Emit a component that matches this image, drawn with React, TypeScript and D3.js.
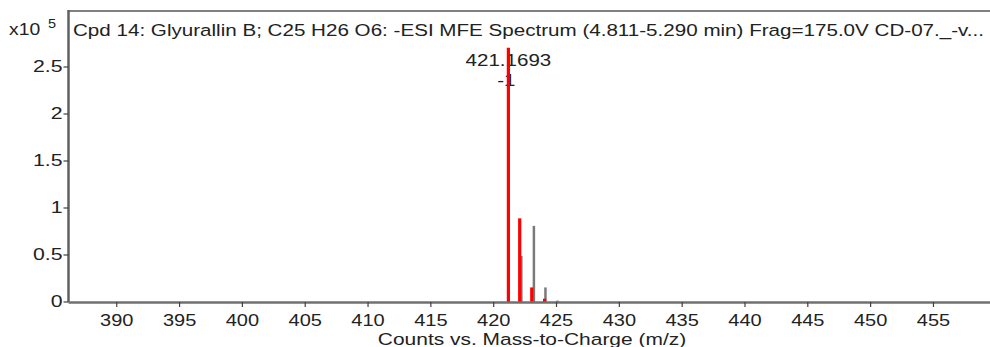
import React from "react";
import * as d3 from "d3";

// Observed isotope peaks (red): m/z and counts in units of 1e5
const observedMz = [421.1693, 422.07, 423.03, 424.05];
const observedCounts = [2.705, 0.89, 0.155, 0.035];

// Predicted isotope pattern (gray)
const predictedMz = [422.2, 423.2, 424.12, 425.08];
const predictedCounts = [0.49, 0.81, 0.155, 0.015];

const xTicks = [390, 395, 400, 405, 410, 415, 420, 425, 430, 435, 440, 445, 450, 455];
const yTicks = [0, 0.5, 1, 1.5, 2, 2.5];
const yTickLabels = ["0", "0.5", "1", "1.5", "2", "2.5"];

const title =
  "Cpd 14: Glyurallin B; C25 H26 O6: -ESI MFE Spectrum (4.811-5.290 min) Frag=175.0V CD-07._-v...";
const peakLabel = "421.1693";
const peakCharge = "-1";
const xTitle = "Counts vs. Mass-to-Charge (m/z)";

const W = 990;
const H = 347;
const left = 68.5;
const right = 990;
const top = 11;
const bottom = 302;

const FONT = "'Liberation Sans', Arial, sans-serif";
const TEXT = "#222";

// Text with the wide, horizontally stretched look of the instrument export
function Label({
  x,
  y,
  size = 17,
  stretch = 1.21,
  anchor = "start",
  dy,
  children,
}: {
  x: number;
  y: number;
  size?: number;
  stretch?: number;
  anchor?: "start" | "middle" | "end";
  dy?: string;
  children: React.ReactNode;
}) {
  return (
    <text
      transform={`translate(${x},${y}) scale(${stretch},1)`}
      textAnchor={anchor}
      dy={dy}
      fontSize={size}
      fill={TEXT}
    >
      {children}
    </text>
  );
}

export default function App() {
  const x = d3.scaleLinear().domain([386.16, 459.5]).range([left, right]);
  const y = d3.scaleLinear().domain([0, 2.5]).range([bottom, 67]);

  return (
    <svg
      width={W}
      height={H}
      style={{ position: "absolute", left: 0, top: 0, background: "#fff", overflow: "hidden" }}
      fontFamily={FONT}
    >
      {/* frame */}
      <line x1={left} x2={right} y1={top} y2={top} stroke="#808080" strokeWidth={2} />
      <line x1={left} x2={left} y1={top - 1} y2={bottom} stroke="#606060" strokeWidth={2.5} />

      {/* title */}
      <Label x={73} y={36} stretch={1.213}>
        {title}
      </Label>

      {/* y axis multiplier */}
      <Label x={9} y={35} size={16}>
        x10
      </Label>
      <Label x={48} y={28} size={12}>
        5
      </Label>

      {yTicks.map((t, i) => (
        <g key={t}>
          <line x1={left - 5} x2={left} y1={y(t)} y2={y(t)} stroke="#404040" strokeWidth={1.2} />
          <Label x={left - 6} y={y(t) - 1.5} dy="0.36em" anchor="end" stretch={1.25}>
            {yTickLabels[i]}
          </Label>
        </g>
      ))}

      {/* predicted pattern */}
      {predictedMz.map((m, i) => (
        <line
          key={"p" + m}
          x1={x(m)}
          x2={x(m)}
          y1={bottom}
          y2={y(predictedCounts[i])}
          stroke="#7a7a7a"
          strokeWidth={2.5}
        />
      ))}

      {/* peak annotation */}
      <Label x={x(observedMz[0])} y={66} anchor="middle">
        {peakLabel}
      </Label>
      <Label x={x(observedMz[0]) - 2} y={86} anchor="middle">
        {peakCharge}
      </Label>

      {/* observed peaks */}
      {observedMz.map((m, i) => (
        <line
          key={"o" + m}
          x1={x(m)}
          x2={x(m)}
          y1={bottom}
          y2={y(observedCounts[i])}
          stroke="#ff0000"
          strokeWidth={3.2}
        />
      ))}

      {/* x axis */}
      <line x1={left} x2={right} y1={bottom + 0.5} y2={bottom + 0.5} stroke="#707070" strokeWidth={2.5} />
      {xTicks.map((t) => (
        <g key={t}>
          <line x1={x(t)} x2={x(t)} y1={bottom} y2={bottom + 5} stroke="#404040" strokeWidth={1.2} />
          <Label x={x(t)} y={326} anchor="middle" size={16} stretch={1.25}>
            {t}
          </Label>
        </g>
      ))}
      <Label x={532} y={345} anchor="middle" size={16.5} stretch={1.27}>
        {xTitle}
      </Label>
    </svg>
  );
}
